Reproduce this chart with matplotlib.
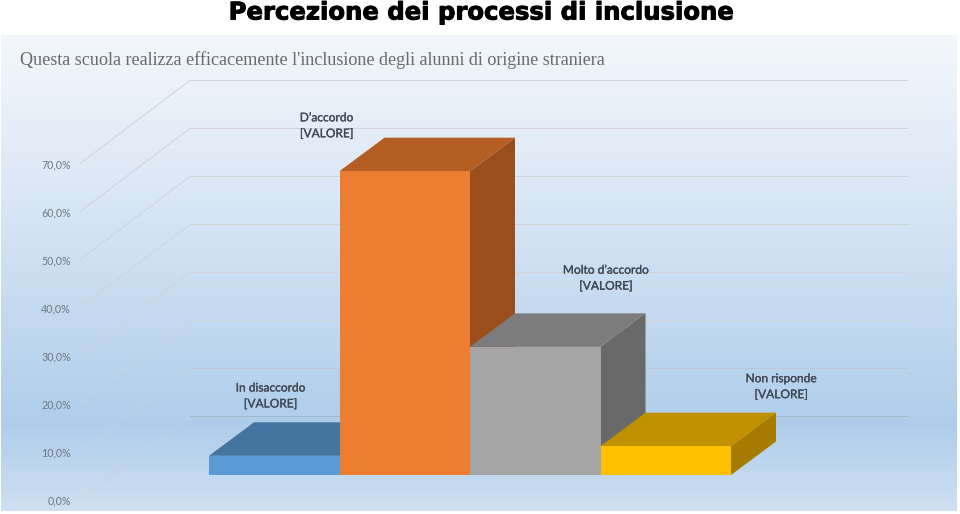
import matplotlib
matplotlib.use('Agg')
import matplotlib.pyplot as plt
import matplotlib.patheffects as pe
from matplotlib.colors import LinearSegmentedColormap
from matplotlib.patches import Polygon
import numpy as np

title = "Percezione dei processi di inclusione"
subtitle = "Questa scuola realizza efficacemente l'inclusione degli alunni di origine straniera"
categories = ["In disaccordo", "D\u2019accordo", "Molto d\u2019accordo", "Non risponde"]
values = [4.0, 63.3, 26.7, 6.0]
ticks = [0, 10, 20, 30, 40, 50, 60, 70]
tick_labels = ["0,0%", "10,0%", "20,0%", "30,0%", "40,0%", "50,0%", "60,0%", "70,0%"]

front_colors = ["#5b9bd5", "#ed7d31", "#a5a5a5", "#ffc000"]
top_colors = ["#4474a0", "#b55e24", "#7c7c7c", "#bf9000"]
side_colors = ["#375d80", "#9a4e1c", "#696969", "#a67c00"]

W, H = 960, 514
fig = plt.figure(figsize=(W / 100, H / 100), dpi=100, facecolor='white')

# panel goes from px 1 to 957 across and 35 to 511 down
ax = fig.add_axes([1 / W, 1 - 511 / H, 956 / W, 476 / H])
ux, uy = 130.5, 4.8   # px per category, px per percent
xlim = ((1 - 209) / ux, (957 - 209) / ux)
ylim = ((475 - 511) / uy, (475 - 35) / uy)
ax.axis('off')

# background gradient
cmap = LinearSegmentedColormap.from_list('bg', [(0, '#f3f7fc'), (0.3, '#dde9f6'), (0.82, '#afcdea'), (1, '#cfe0f2')])
grad = np.linspace(0, 1, 256).reshape(-1, 1)
ax.imshow(grad, cmap=cmap, aspect='auto', extent=(*xlim, *ylim), origin='upper', zorder=0)
ax.set_xlim(*xlim)
ax.set_ylim(*ylim)

# walls
wall_x0, wall_x1, wall_x2 = -0.988, -0.146, 5.35
wall_y0, wall_y1 = -5.1, 12.2
for t, lab in zip(ticks, tick_labels):
    side_a = 1.0 if t > 30 else 0.45 + t * 0.015
    ax.plot([wall_x0, wall_x1], [wall_y0 + t, wall_y1 + t], color='#cfd3d8', lw=0.7, alpha=side_a, zorder=1)
    back_c = '#a3b8cc' if t == 0 else ('#b9c7d6' if t == 10 else '#d0d4d9')
    ax.plot([wall_x1, wall_x2], [wall_y1 + t, wall_y1 + t], color=back_c, lw=0.7, zorder=1)
    ax.text(wall_x0 - 0.07, wall_y0 + t - 0.3, lab, ha='right', va='center', fontsize=7.7, color='#6b7682', family='Lato', zorder=5)

# bars with depth
dx, dy = 45 / ux, 33.5 / uy
for i, v in enumerate(values):
    ax.add_patch(Polygon([(i + 1, 0), (i + 1 + dx, dy), (i + 1 + dx, v + dy), (i + 1, v)], fc=side_colors[i], ec='none', zorder=2 + i))
    ax.add_patch(Polygon([(i, v), (i + dx, v + dy), (i + 1 + dx, v + dy), (i + 1, v)], fc=top_colors[i], ec='none', zorder=2 + i))
    ax.bar(i, v, width=1, align='edge', color=front_colors[i], zorder=2 + i)

# labels
label_pos = [(0.47, 16.46), (0.9, 72.75), (3.04, 41.0), (4.383, 18.4)]
for i, (lx, ly) in enumerate(label_pos):
    ax.text(lx, ly, categories[i] + "\n[VALORE]", ha='center', va='center', fontsize=8.6, color='#404a55',
            family='Lato', linespacing=1.55, zorder=10,
            path_effects=[pe.withStroke(linewidth=0.2, foreground='#404a55')])

fig.text(480 / W, 1 - 12.5 / H, title, ha='center', va='center', fontsize=17.5, fontweight='bold', color='black',
         family='DejaVu Sans', path_effects=[pe.withStroke(linewidth=0.7, foreground='black')])
fig.text(20 / W, 1 - 60 / H, subtitle, ha='left', va='center', fontsize=13.1, color='#6a6a6a', family='Liberation Serif')

fig.savefig('out.png', dpi=100)
